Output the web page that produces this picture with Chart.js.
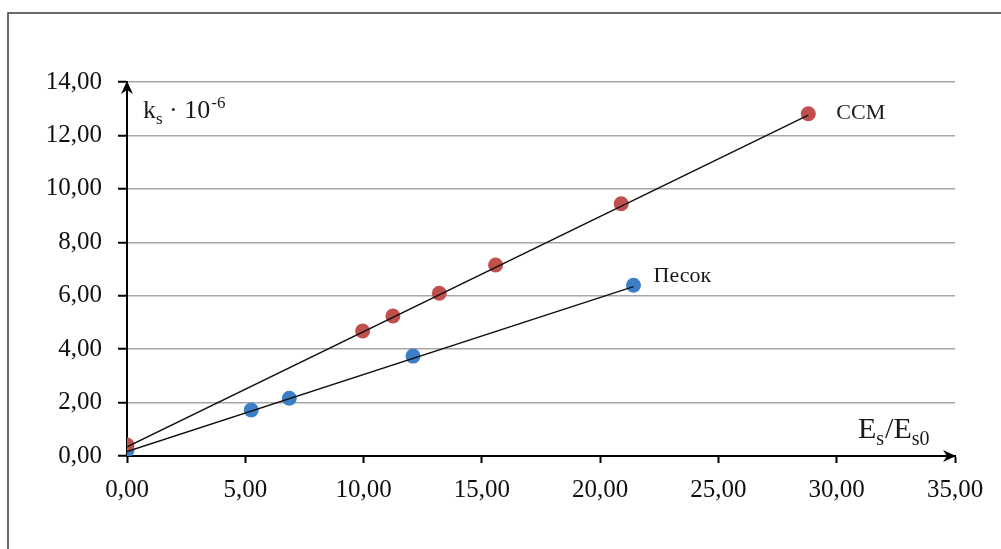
<!DOCTYPE html>
<html>
<head>
<meta charset="utf-8">
<script src="https://cdn.jsdelivr.net/npm/chart.js@4/dist/chart.umd.min.js"></script>
<style>
  html, body { margin: 0; padding: 0; background: #fff; }
  #wrap { width: 1001px; height: 549px; position: relative; }
</style>
</head>
<body>
<div id="wrap"><canvas id="chart"></canvas></div>
<script>
// values
const ssmX = [0, 9.96, 11.24, 13.2, 15.58, 20.89, 28.8];
const ssmY = [0.41, 4.68, 5.24, 6.09, 7.15, 9.44, 12.81];
const sandX = [0, 5.25, 6.86, 12.09, 21.41];
const sandY = [0.22, 1.72, 2.16, 3.74, 6.39];
// trend lines (ends of the straight fits drawn in the picture)
const ssmTrendX = [0, 28.8];
const ssmTrendY = [0.34, 12.76];
const sandTrendX = [0, 21.41];
const sandTrendY = [0.17, 6.34];

const xTicks = [0, 5, 10, 15, 20, 25, 30, 35];
const yTicks = [0, 2, 4, 6, 8, 10, 12, 14];

const seriesNames = ['ССМ', 'Песок'];
const font = 'Liberation Serif, Times New Roman, serif';

function toPoints(xs, ys) {
  return xs.map((x, i) => ({x: x, y: ys[i]}));
}

function fmt(v) {
  return v.toFixed(2).replace('.', ',');
}

const decor = {
  id: 'decor',
  afterDraw(chart) {
    const ctx = chart.ctx;
    const a = chart.chartArea;
    const xs = chart.scales.x;
    const ys = chart.scales.y;
    ctx.save();

    // outer frame (top and left only)
    ctx.strokeStyle = '#3a3a3a';
    ctx.lineWidth = 1.5;
    ctx.beginPath();
    ctx.moveTo(1001, 13);
    ctx.lineTo(8, 13);
    ctx.lineTo(8, 549);
    ctx.stroke();

    // arrow heads
    ctx.fillStyle = '#000';
    ctx.beginPath();
    ctx.moveTo(a.left, a.top - 1);
    ctx.lineTo(a.left - 6, a.top + 12);
    ctx.lineTo(a.left, a.top + 8);
    ctx.lineTo(a.left + 6, a.top + 12);
    ctx.closePath();
    ctx.fill();
    ctx.beginPath();
    ctx.moveTo(a.right + 1, a.bottom);
    ctx.lineTo(a.right - 12, a.bottom - 6);
    ctx.lineTo(a.right - 8, a.bottom);
    ctx.lineTo(a.right - 12, a.bottom + 6);
    ctx.closePath();
    ctx.fill();

    ctx.fillStyle = '#1a1a1a';
    ctx.textBaseline = 'alphabetic';
    ctx.textAlign = 'left';

    // y axis title: k_s · 10^-6
    let x = a.left + 16;
    let y = a.top + 36;
    ctx.font = '26px ' + font;
    ctx.fillText('k', x, y);
    x += ctx.measureText('k').width;
    ctx.font = '17px ' + font;
    ctx.fillText('s', x, y + 6);
    x += ctx.measureText('s').width;
    ctx.font = '26px ' + font;
    ctx.fillText(' · 10', x, y);
    x += ctx.measureText(' · 10').width;
    ctx.font = '17px ' + font;
    ctx.fillText('-6', x + 1, y - 10);

    // x axis title: E_s/E_s0
    x = a.right - 97;
    y = a.bottom - 18;
    ctx.font = '30px ' + font;
    ctx.fillText('E', x, y);
    x += ctx.measureText('E').width;
    ctx.font = '20px ' + font;
    ctx.fillText('s', x, y + 7);
    x += ctx.measureText('s').width + 1;
    ctx.font = '30px ' + font;
    ctx.fillText('/E', x, y);
    x += ctx.measureText('/E').width;
    ctx.font = '20px ' + font;
    ctx.fillText('s0', x, y + 7);

    // series labels next to the last points
    ctx.font = '22px ' + font;
    const px1 = xs.getPixelForValue(ssmX[ssmX.length - 1]);
    const py1 = ys.getPixelForValue(ssmY[ssmY.length - 1]);
    ctx.fillText(seriesNames[0], px1 + 28, py1 + 5);
    const px2 = xs.getPixelForValue(sandX[sandX.length - 1]);
    const py2 = ys.getPixelForValue(sandY[sandY.length - 1]);
    ctx.fillText(seriesNames[1], px2 + 20, py2 - 3);

    ctx.restore();
  },
};

new Chart(document.getElementById('chart'), {
  type: 'scatter',
  data: {
    datasets: [
      {
        label: 'ССМ тренд',
        data: toPoints(ssmTrendX, ssmTrendY),
        showLine: true,
        borderColor: '#111',
        borderWidth: 1.5,
        pointRadius: 0,
        order: 0,
      },
      {
        label: 'Песок тренд',
        data: toPoints(sandTrendX, sandTrendY),
        showLine: true,
        borderColor: '#111',
        borderWidth: 1.5,
        pointRadius: 0,
        order: 0,
      },
      {
        label: seriesNames[0],
        data: toPoints(ssmX, ssmY),
        backgroundColor: '#c0504d',
        borderColor: '#c0504d',
        pointRadius: 7.5,
        borderWidth: 0,
        order: 1,
      },
      {
        label: seriesNames[1],
        data: toPoints(sandX, sandY),
        backgroundColor: '#3d7fc6',
        borderColor: '#3d7fc6',
        pointRadius: 7.5,
        borderWidth: 0,
        order: 1,
      },
    ],
  },
  options: {
    responsive: true,
    maintainAspectRatio: false,
    animation: false,
    layout: {
      padding: {left: 0, top: 82, right: 46, bottom: 0},
    },
    plugins: {
      legend: {display: false},
      tooltip: {enabled: false},
    },
    scales: {
      x: {
        type: 'linear',
        min: 0,
        max: 35,
        afterBuildTicks: (scale) => {
          scale.ticks = xTicks.map((v) => ({value: v}));
        },
        afterFit: (scale) => {
          scale.height = 93;
        },
        border: {display: true, color: '#000', width: 2},
        grid: {
          drawOnChartArea: false,
          drawTicks: true,
          tickLength: 7,
          tickColor: '#000',
          tickWidth: 2,
        },
        ticks: {
          callback: (v) => fmt(v),
          color: '#111',
          font: {family: font, size: 25},
          padding: 12,
          maxRotation: 0,
        },
      },
      y: {
        type: 'linear',
        min: 0,
        max: 14,
        afterBuildTicks: (scale) => {
          scale.ticks = yTicks.map((v) => ({value: v}));
        },
        afterFit: (scale) => {
          scale.width = 127;
        },
        border: {display: true, color: '#000', width: 2},
        grid: {
          color: '#a6a6a6',
          lineWidth: 1.5,
          drawTicks: true,
          tickLength: 9,
          tickColor: '#000',
          tickWidth: 2,
        },
        ticks: {
          callback: (v) => fmt(v),
          color: '#111',
          font: {family: font, size: 25},
          padding: 16,
        },
      },
    },
  },
  plugins: [decor],
});
</script>
</body>
</html>
